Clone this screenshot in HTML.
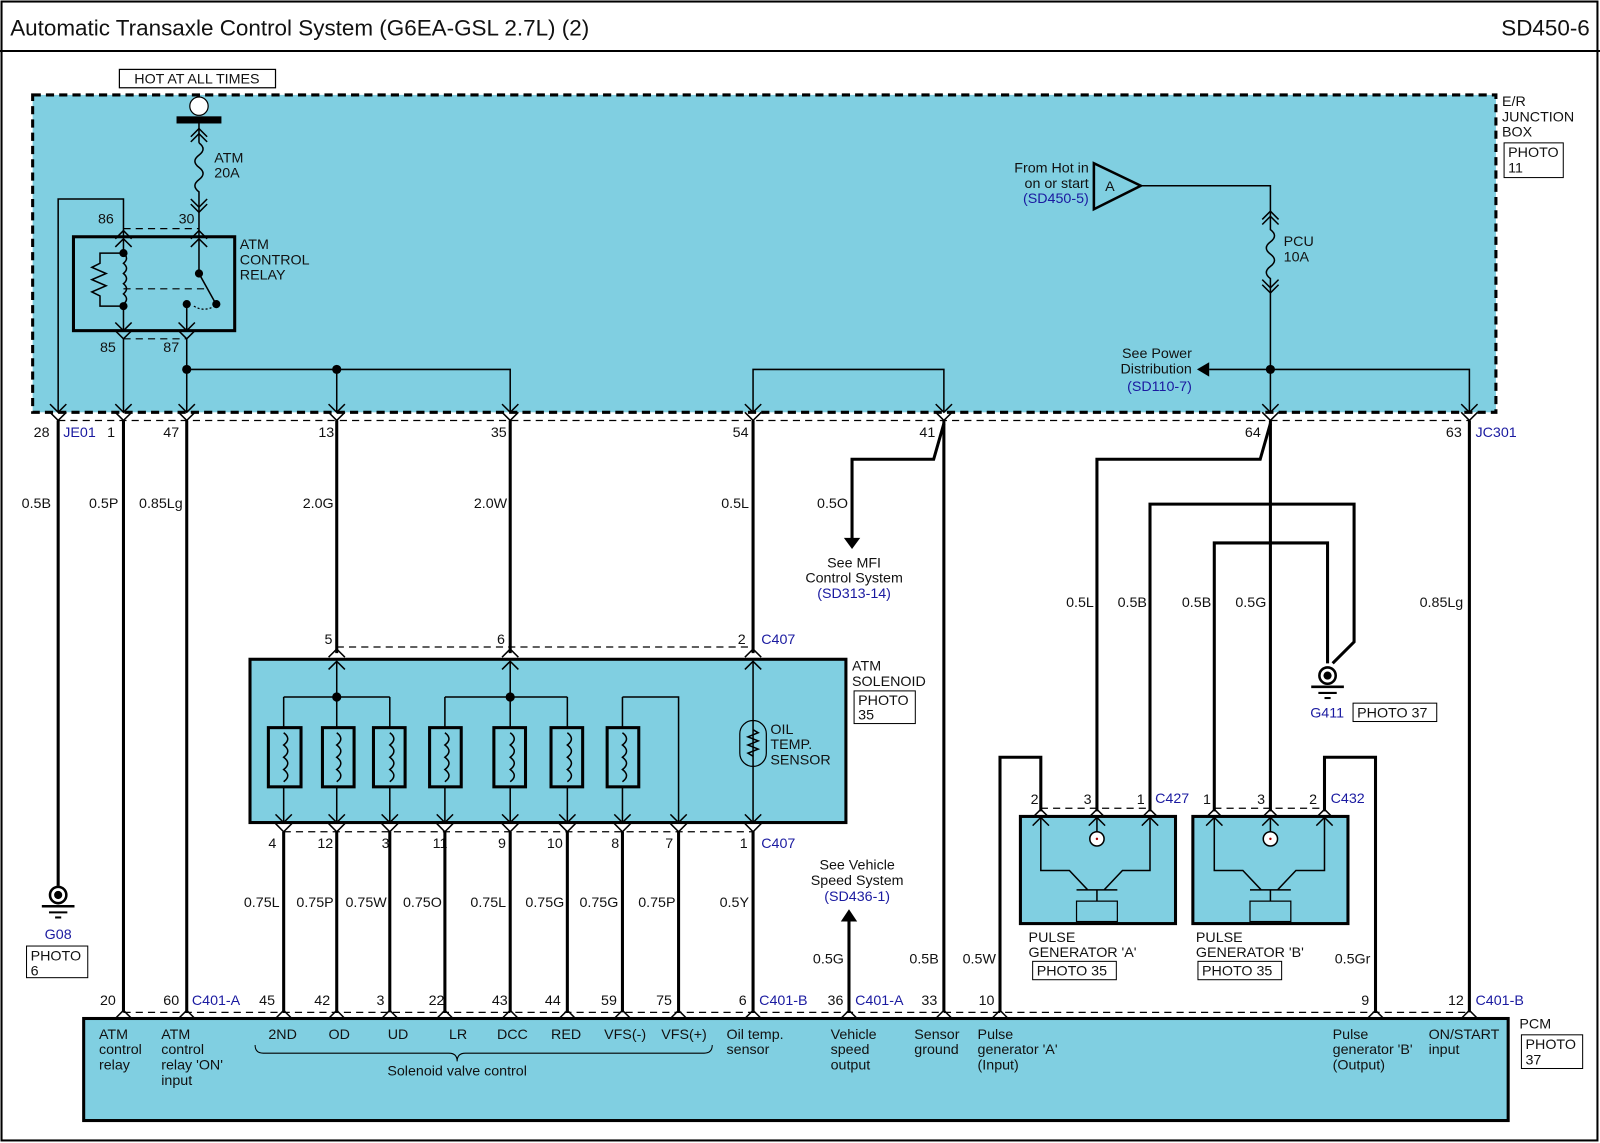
<!DOCTYPE html>
<html><head><meta charset="utf-8"><style>
html,body{margin:0;padding:0;background:#fff}
svg{display:block}
text{font-family:"Liberation Sans",Arial,sans-serif;font-size:14px;fill:#111}
.b{fill:#1a1aa0}
.w{stroke:#000;stroke-width:3;fill:none}
.t{stroke:#000;stroke-width:1.5;fill:none}
.d{stroke:#000;stroke-width:1.2;fill:none;stroke-dasharray:7,5}
</style></head><body>
<svg width="1600" height="1143" viewBox="0 0 1568 1120" preserveAspectRatio="none" xmlns="http://www.w3.org/2000/svg">
<defs>
<path id="dn" d="M-8,-8 L0,0 L8,-8" fill="none" stroke="#000" stroke-width="1.5"/>
<path id="up" d="M-8,8 L0,0 L8,8" fill="none" stroke="#000" stroke-width="1.5"/>
</defs>
<rect x="1.5" y="1.5" width="1564" height="1116" fill="none" stroke="#000" stroke-width="2"/>
<line x1="0" y1="50" x2="1568" y2="50" stroke="#000" stroke-width="2"/>
<text x="10" y="35" style="font-size:22px">Automatic Transaxle Control System (G6EA-GSL 2.7L) (2)</text>
<text x="1558" y="35" text-anchor="end" style="font-size:22px">SD450-6</text>

<rect x="32" y="93" width="1434" height="311" fill="#80cfe1" stroke="#000" stroke-width="3" stroke-dasharray="8,5"/>
<rect x="117" y="68" width="153" height="18" fill="#fff" stroke="#000" stroke-width="1.2"/>
<text x="193" y="82" text-anchor="middle">HOT AT ALL TIMES</text>
<text x="1472" y="104">E/R</text><text x="1472" y="119">JUNCTION</text><text x="1472" y="134">BOX</text>
<rect x="1474" y="140" width="58" height="34" fill="#fff" stroke="#000"/>
<text x="1478" y="154">PHOTO</text><text x="1478" y="169">11</text>

<circle cx="195" cy="104" r="9" fill="#fff" stroke="#000" stroke-width="1.2"/>
<rect x="173" y="114" width="44" height="7" fill="#000"/>
<line class="t" x1="195" y1="121" x2="195" y2="140"/>
<use href="#up" x="195" y="126"/><use href="#up" x="195" y="131"/>
<path class="t" d="M195,140 q8,6 0,12 q-8,6 0,12 q8,6 0,12 q-8,6 0,12 L195,232"/>
<use href="#dn" x="195" y="203"/><use href="#dn" x="195" y="208"/>
<text x="210" y="159">ATM</text><text x="210" y="174">20A</text>

<path class="t" d="M57,404 L57,195 L121,195 L121,232"/>
<line class="d" x1="121" y1="224" x2="195" y2="224"/>
<text x="96" y="219">86</text><text x="175" y="219">30</text>
<use href="#up" x="121" y="226"/><use href="#up" x="121" y="234"/>
<use href="#up" x="195" y="226"/><use href="#up" x="195" y="234"/>
<rect x="72" y="232" width="158" height="92" fill="none" stroke="#000" stroke-width="3"/>
<text x="235" y="244">ATM</text><text x="235" y="259">CONTROL</text><text x="235" y="274">RELAY</text>
<path class="t" d="M121,234 L121,248 q6,5 0,10 q6,5 0,10 q6,5 0,10 q6,5 0,10 q6,5 0,10 L121,324"/>
<path class="t" d="M121,248 L98,248 L98,258 L90,262 L104,268 L90,274 L104,280 L90,286 L98,290 L98,300 L121,300"/>
<circle cx="121" cy="248" r="4"/><circle cx="121" cy="300" r="4"/>
<line class="d" x1="121" y1="283" x2="205" y2="283"/>
<path class="t" d="M195,234 L195,268 L210,295"/>
<circle cx="195" cy="268" r="4"/><circle cx="212" cy="298" r="4"/><circle cx="183" cy="298" r="4"/>
<path d="M190,300 q10,6 20,0" fill="none" stroke="#000" stroke-width="1.2" stroke-dasharray="2,2"/>
<line class="t" x1="183" y1="298" x2="183" y2="324"/>
<use href="#dn" x="121" y="324"/><use href="#dn" x="121" y="332"/>
<use href="#dn" x="183" y="324"/><use href="#dn" x="183" y="332"/>
<line class="d" x1="121" y1="332" x2="183" y2="332"/>
<text x="98" y="345">85</text><text x="160" y="345">87</text>
<line class="t" x1="121" y1="332" x2="121" y2="404"/>
<line class="t" x1="183" y1="332" x2="183" y2="404"/>
<path class="t" d="M183,362 L500,362 L500,404 M330,362 L330,404"/>
<circle cx="183" cy="362" r="4.5"/><circle cx="330" cy="362" r="4.5"/>
<path class="t" d="M738,404 L738,362 L925,362 L925,404"/>

<path d="M1072,160 L1118,182 L1072,205 Z" fill="none" stroke="#000" stroke-width="2.5"/>
<text x="1083" y="187">A</text>
<text x="1067" y="169" text-anchor="end">From Hot in</text>
<text x="1067" y="184" text-anchor="end">on or start</text>
<text x="1067" y="199" text-anchor="end" class="b">(SD450-5)</text>
<path class="t" d="M1118,182 L1245,182 L1245,225 q8,6 0,12 q-8,6 0,12 q8,6 0,12 q-8,6 0,12 L1245,404"/>
<use href="#up" x="1245" y="207"/><use href="#up" x="1245" y="212"/>
<use href="#dn" x="1245" y="282"/><use href="#dn" x="1245" y="287"/>
<text x="1258" y="241">PCU</text><text x="1258" y="256">10A</text>
<path class="t" d="M1245,362 L1185,362 M1245,362 L1440,362 L1440,404"/>
<path d="M1173,362 L1185,355 L1185,369 Z"/>
<circle cx="1245" cy="362" r="4.5"/>
<text x="1168" y="351" text-anchor="end">See Power</text>
<text x="1168" y="366" text-anchor="end">Distribution</text>
<text x="1168" y="383" text-anchor="end" class="b">(SD110-7)</text>

<line class="d" x1="57" y1="412" x2="1440" y2="412"/>
<g>
<use href="#dn" x="57" y="404"/><use href="#dn" x="57" y="412"/>
<use href="#dn" x="121" y="404"/><use href="#dn" x="121" y="412"/>
<use href="#dn" x="183" y="404"/><use href="#dn" x="183" y="412"/>
<use href="#dn" x="330" y="404"/><use href="#dn" x="330" y="412"/>
<use href="#dn" x="500" y="404"/><use href="#dn" x="500" y="412"/>
<use href="#dn" x="738" y="404"/><use href="#dn" x="738" y="412"/>
<use href="#dn" x="925" y="404"/><use href="#dn" x="925" y="412"/>
<use href="#dn" x="1245" y="404"/><use href="#dn" x="1245" y="412"/>
<use href="#dn" x="1440" y="404"/><use href="#dn" x="1440" y="412"/>
</g>
<text x="33" y="428">28</text><text x="62" y="428" class="b">JE01</text>
<text x="105" y="428">1</text><text x="160" y="428">47</text>
<text x="312" y="428">13</text><text x="481" y="428">35</text>
<text x="718" y="428">54</text><text x="901" y="428">41</text>
<text x="1220" y="428">64</text><text x="1417" y="428">63</text>
<text x="1446" y="428" class="b">JC301</text>

<path class="w" d="M57,412 L57,868"/>
<path class="w" d="M121,412 L121,992 M183,412 L183,992 M330,412 L330,640 M500,412 L500,640 M738,412 L738,640 M738,814 L738,992"/>
<path class="w" d="M925,412 L925,992"/>
<path class="w" d="M925,415 L915,450 L835,450 L835,530"/>
<path d="M827,527 L843,527 L835,538 Z"/>
<text x="837" y="556" text-anchor="middle">See MFI</text>
<text x="837" y="571" text-anchor="middle">Control System</text>
<text x="837" y="586" text-anchor="middle" class="b">(SD313-14)</text>
<text x="50" y="498" text-anchor="end">0.5B</text>
<text x="116" y="498" text-anchor="end">0.5P</text>
<text x="179" y="498" text-anchor="end">0.85Lg</text>
<text x="327" y="498" text-anchor="end">2.0G</text>
<text x="497" y="498" text-anchor="end">2.0W</text>
<text x="734" y="498" text-anchor="end">0.5L</text>
<text x="831" y="498" text-anchor="end">0.5O</text>

<circle cx="57" cy="877" r="8" fill="#fff" stroke="#000" stroke-width="2.5"/><circle cx="57" cy="877" r="4"/>
<line x1="41" y1="888" x2="73" y2="888" stroke="#000" stroke-width="2.5"/>
<line x1="48" y1="894" x2="66" y2="894" stroke="#000" stroke-width="2"/>
<line x1="54" y1="899" x2="60" y2="899" stroke="#000" stroke-width="2"/>
<text x="57" y="920" text-anchor="middle" class="b">G08</text>
<rect x="26" y="927" width="60" height="31" fill="#fff" stroke="#000"/>
<text x="30" y="941">PHOTO</text><text x="30" y="956">6</text>

<path class="w" d="M1245,412 L1245,795"/>
<path class="w" d="M1245,415 L1235,450 L1075,450 L1075,795"/>
<path class="w" d="M1127,795 L1127,494 L1327,494 L1327,629 L1306,650"/>
<path class="w" d="M1190,795 L1190,532 L1301,532 L1301,650"/>
<path class="w" d="M1440,412 L1440,992"/>
<path class="w" d="M980,992 L980,742 L1020,742 L1020,795"/>
<path class="w" d="M1348,992 L1348,742 L1298,742 L1298,795"/>
<text x="1072" y="595" text-anchor="end">0.5L</text>
<text x="1124" y="595" text-anchor="end">0.5B</text>
<text x="1187" y="595" text-anchor="end">0.5B</text>
<text x="1241" y="595" text-anchor="end">0.5G</text>
<text x="1434" y="595" text-anchor="end">0.85Lg</text>
<circle cx="1301" cy="662" r="8" fill="#fff" stroke="#000" stroke-width="2.5"/><circle cx="1301" cy="662" r="4"/>
<line x1="1285" y1="673" x2="1317" y2="673" stroke="#000" stroke-width="2.5"/>
<line x1="1292" y1="679" x2="1310" y2="679" stroke="#000" stroke-width="2"/>
<line x1="1298" y1="684" x2="1304" y2="684" stroke="#000" stroke-width="2"/>
<text x="1284" y="703" class="b">G411</text>
<rect x="1326" y="689" width="82" height="18" fill="#fff" stroke="#000"/>
<text x="1330" y="703">PHOTO 37</text>

<line class="d" x1="1020" y1="792" x2="1127" y2="792"/>
<line class="d" x1="1190" y1="792" x2="1298" y2="792"/>
<text x="1010" y="788">2</text><text x="1062" y="788">3</text><text x="1114" y="788">1</text>
<text x="1132" y="787" class="b">C427</text>
<text x="1179" y="788">1</text><text x="1232" y="788">3</text><text x="1283" y="788">2</text>
<text x="1304" y="787" class="b">C432</text>
<rect x="1000" y="800" width="152" height="105" fill="#80cfe1" stroke="#000" stroke-width="3"/>
<rect x="1169" y="800" width="152" height="105" fill="#80cfe1" stroke="#000" stroke-width="3"/>
<g>
<use href="#up" x="1020" y="793"/><use href="#up" x="1020" y="801"/>
<use href="#up" x="1075" y="793"/><use href="#up" x="1075" y="801"/>
<use href="#up" x="1127" y="793"/><use href="#up" x="1127" y="801"/>
<use href="#up" x="1190" y="793"/><use href="#up" x="1190" y="801"/>
<use href="#up" x="1245" y="793"/><use href="#up" x="1245" y="801"/>
<use href="#up" x="1298" y="793"/><use href="#up" x="1298" y="801"/>
</g>
<path class="t" d="M1020,801 L1020,853 L1048,853 L1066,872 M1127,801 L1127,853 L1100,853 L1082,872 M1055,872 L1095,872 M1075,872 L1075,883"/>
<rect x="1055" y="883" width="40" height="20" fill="none" stroke="#000" stroke-width="1.2"/>
<line class="t" x1="1075" y1="801" x2="1075" y2="815"/>
<circle cx="1075" cy="822" r="7" fill="#fff" stroke="#000" stroke-width="1.5"/><circle cx="1075" cy="822" r="1.2" fill="#a00"/>
<path class="t" d="M1190,801 L1190,853 L1218,853 L1236,872 M1298,801 L1298,853 L1270,853 L1252,872 M1225,872 L1265,872 M1245,872 L1245,883"/>
<rect x="1225" y="883" width="40" height="20" fill="none" stroke="#000" stroke-width="1.2"/>
<line class="t" x1="1245" y1="801" x2="1245" y2="815"/>
<circle cx="1245" cy="822" r="7" fill="#fff" stroke="#000" stroke-width="1.5"/><circle cx="1245" cy="822" r="1.2" fill="#a00"/>
<text x="1008" y="923">PULSE</text><text x="1008" y="938">GENERATOR 'A'</text>
<rect x="1012" y="942" width="82" height="18" fill="#fff" stroke="#000"/><text x="1016" y="956">PHOTO 35</text>
<text x="1172" y="923">PULSE</text><text x="1172" y="938">GENERATOR 'B'</text>
<rect x="1174" y="942" width="82" height="18" fill="#fff" stroke="#000"/><text x="1178" y="956">PHOTO 35</text>

<line class="d" x1="330" y1="634" x2="738" y2="634"/>
<text x="318" y="631">5</text><text x="487" y="631">6</text><text x="723" y="631">2</text>
<text x="746" y="631" class="b">C407</text>
<rect x="245" y="646" width="584" height="160" fill="#80cfe1" stroke="#000" stroke-width="3"/>
<use href="#up" x="330" y="636"/><use href="#up" x="330" y="648"/>
<use href="#up" x="500" y="636"/><use href="#up" x="500" y="648"/>
<use href="#up" x="738" y="636"/><use href="#up" x="738" y="648"/>
<text x="835" y="657">ATM</text><text x="835" y="672">SOLENOID</text>
<rect x="837" y="677" width="60" height="32" fill="#fff" stroke="#000"/>
<text x="841" y="691">PHOTO</text><text x="841" y="705">35</text>
<path class="t" d="M330,648 L330,806 M278,683 L382,683 M500,648 L500,806 M436,683 L556,683 M610,683 L665,683 L665,806 M278,683 L278,806 M382,683 L382,806 M436,683 L436,806 M556,683 L556,806 M610,683 L610,806 M738,648 L738,806"/>
<circle cx="330" cy="683" r="4.5"/><circle cx="500" cy="683" r="4.5"/>
<g fill="#80cfe1" stroke="#000" stroke-width="3">
<rect x="263" y="713" width="32" height="58"/><rect x="316" y="713" width="31" height="58"/>
<rect x="366" y="713" width="31" height="58"/><rect x="421" y="713" width="31" height="58"/>
<rect x="484" y="713" width="31" height="58"/><rect x="540" y="713" width="31" height="58"/>
<rect x="595" y="713" width="31" height="58"/>
</g>
<path class="t" d="M278,718 q8,6 0,12 q8,6 0,12 q8,6 0,12 q8,6 0,12 M330,718 q8,6 0,12 q8,6 0,12 q8,6 0,12 q8,6 0,12 M382,718 q8,6 0,12 q8,6 0,12 q8,6 0,12 q8,6 0,12 M436,718 q8,6 0,12 q8,6 0,12 q8,6 0,12 q8,6 0,12 M500,718 q8,6 0,12 q8,6 0,12 q8,6 0,12 q8,6 0,12 M556,718 q8,6 0,12 q8,6 0,12 q8,6 0,12 q8,6 0,12 M610,718 q8,6 0,12 q8,6 0,12 q8,6 0,12 q8,6 0,12"/>
<rect x="725" y="706" width="26" height="45" rx="13" fill="none" stroke="#000" stroke-width="1.2"/>
<path class="t" d="M738,715 l5,3 l-10,4 l10,4 l-10,4 l10,4 l-10,4 l5,3"/>
<text x="755" y="719">OIL</text><text x="755" y="734">TEMP.</text><text x="755" y="749">SENSOR</text>
<line class="d" x1="278" y1="815" x2="738" y2="815"/>
<g>
<use href="#dn" x="278" y="806"/><use href="#dn" x="278" y="815"/>
<use href="#dn" x="330" y="806"/><use href="#dn" x="330" y="815"/>
<use href="#dn" x="382" y="806"/><use href="#dn" x="382" y="815"/>
<use href="#dn" x="436" y="806"/><use href="#dn" x="436" y="815"/>
<use href="#dn" x="500" y="806"/><use href="#dn" x="500" y="815"/>
<use href="#dn" x="556" y="806"/><use href="#dn" x="556" y="815"/>
<use href="#dn" x="610" y="806"/><use href="#dn" x="610" y="815"/>
<use href="#dn" x="665" y="806"/><use href="#dn" x="665" y="815"/>
<use href="#dn" x="738" y="806"/><use href="#dn" x="738" y="815"/>
</g>
<text x="263" y="831">4</text><text x="311" y="831">12</text><text x="374" y="831">3</text>
<text x="424" y="831">11</text><text x="488" y="831">9</text><text x="536" y="831">10</text>
<text x="599" y="831">8</text><text x="652" y="831">7</text><text x="725" y="831">1</text>
<text x="746" y="831" class="b">C407</text>
<path class="w" d="M278,815 L278,992 M330,815 L330,992 M382,815 L382,992 M436,815 L436,992 M500,815 L500,992 M556,815 L556,992 M610,815 L610,992 M665,815 L665,992"/>
<text x="274" y="889" text-anchor="end">0.75L</text>
<text x="327" y="889" text-anchor="end">0.75P</text>
<text x="379" y="889" text-anchor="end">0.75W</text>
<text x="433" y="889" text-anchor="end">0.75O</text>
<text x="496" y="889" text-anchor="end">0.75L</text>
<text x="553" y="889" text-anchor="end">0.75G</text>
<text x="606" y="889" text-anchor="end">0.75G</text>
<text x="662" y="889" text-anchor="end">0.75P</text>
<text x="734" y="889" text-anchor="end">0.5Y</text>

<path class="w" d="M832,992 L832,900"/>
<path d="M824,903 L840,903 L832,891 Z"/>
<text x="840" y="852" text-anchor="middle">See Vehicle</text>
<text x="840" y="867" text-anchor="middle">Speed System</text>
<text x="840" y="883" text-anchor="middle" class="b">(SD436-1)</text>
<text x="827" y="944" text-anchor="end">0.5G</text>
<text x="920" y="944" text-anchor="end">0.5B</text>
<text x="976" y="944" text-anchor="end">0.5W</text>
<text x="1343" y="944" text-anchor="end">0.5Gr</text>

<line class="d" x1="121" y1="992" x2="1440" y2="992"/>
<rect x="82" y="998" width="1396" height="100" fill="#80cfe1" stroke="#000" stroke-width="3"/>
<g>
<use href="#up" x="121" y="990"/><use href="#up" x="183" y="990"/><use href="#up" x="278" y="990"/>
<use href="#up" x="330" y="990"/><use href="#up" x="382" y="990"/><use href="#up" x="436" y="990"/>
<use href="#up" x="500" y="990"/><use href="#up" x="556" y="990"/><use href="#up" x="610" y="990"/>
<use href="#up" x="665" y="990"/><use href="#up" x="738" y="990"/><use href="#up" x="832" y="990"/>
<use href="#up" x="925" y="990"/><use href="#up" x="980" y="990"/><use href="#up" x="1348" y="990"/>
<use href="#up" x="1440" y="990"/>
</g>
<text x="98" y="985">20</text><text x="160" y="985">60</text>
<text x="188" y="985" class="b">C401-A</text>
<text x="254" y="985">45</text><text x="308" y="985">42</text><text x="369" y="985">3</text>
<text x="420" y="985">22</text><text x="482" y="985">43</text><text x="534" y="985">44</text>
<text x="589" y="985">59</text><text x="643" y="985">75</text><text x="724" y="985">6</text>
<text x="744" y="985" class="b">C401-B</text>
<text x="811" y="985">36</text><text x="838" y="985" class="b">C401-A</text>
<text x="903" y="985">33</text><text x="959" y="985">10</text><text x="1334" y="985">9</text>
<text x="1419" y="985">12</text><text x="1446" y="985" class="b">C401-B</text>
<text x="1489" y="1008">PCM</text>
<rect x="1491" y="1014" width="60" height="33" fill="#fff" stroke="#000"/>
<text x="1495" y="1028">PHOTO</text><text x="1495" y="1043">37</text>
<g>
<text x="97" y="1018">ATM</text><text x="97" y="1033">control</text><text x="97" y="1048">relay</text>
<text x="158" y="1018">ATM</text><text x="158" y="1033">control</text><text x="158" y="1048">relay 'ON'</text><text x="158" y="1063">input</text>
<text x="263" y="1018">2ND</text><text x="322" y="1018">OD</text><text x="380" y="1018">UD</text>
<text x="440" y="1018">LR</text><text x="487" y="1018">DCC</text><text x="540" y="1018">RED</text>
<text x="592" y="1018">VFS(-)</text><text x="648" y="1018">VFS(+)</text>
<text x="712" y="1018">Oil temp.</text><text x="712" y="1033">sensor</text>
<text x="448" y="1054" text-anchor="middle">Solenoid valve control</text>
<path d="M250,1024 q0,8 8,8 L440,1032 q8,0 8,8 q0,-8 8,-8 L690,1032 q8,0 8,-8" fill="none" stroke="#000" stroke-width="1"/>
<text x="814" y="1018">Vehicle</text><text x="814" y="1033">speed</text><text x="814" y="1048">output</text>
<text x="896" y="1018">Sensor</text><text x="896" y="1033">ground</text>
<text x="958" y="1018">Pulse</text><text x="958" y="1033">generator 'A'</text><text x="958" y="1048">(Input)</text>
<text x="1306" y="1018">Pulse</text><text x="1306" y="1033">generator 'B'</text><text x="1306" y="1048">(Output)</text>
<text x="1400" y="1018">ON/START</text><text x="1400" y="1033">input</text>
</g>
</svg>
</body></html>
